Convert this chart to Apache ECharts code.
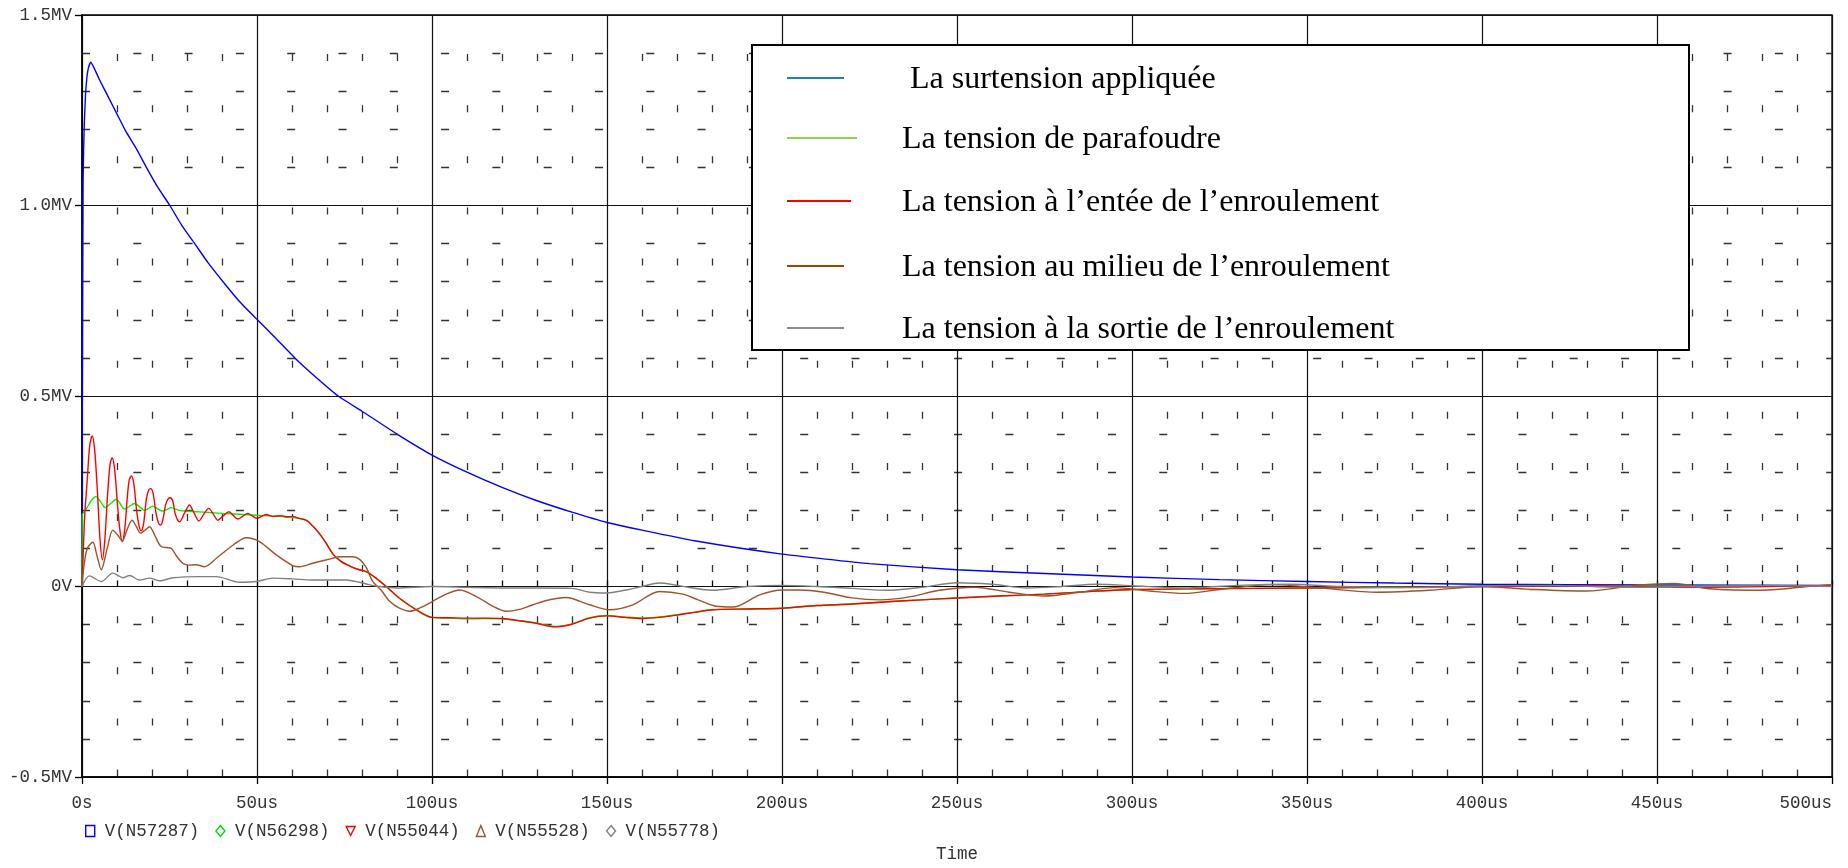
<!DOCTYPE html>
<html>
<head>
<meta charset="utf-8">
<script src="https://cdn.jsdelivr.net/npm/echarts@6/dist/echarts.min.js"></script>
<style>html,body{margin:0;padding:0;background:#fff}#c{width:1848px;height:868px}</style>
</head>
<body>
<div id="c"></div>
<script>
// ---- tick labels ----
var xTickLabels = ['0s','50us','100us','150us','200us','250us','300us','350us','400us','450us','500us'];
var yTickLabels = ['-0.5MV','0V','0.5MV','1.0MV','1.5MV'];

// ---- series names ----
var seriesNames = ['V(N57287)','V(N56298)','V(N55044)','V(N55528)','V(N55778)'];
var boxLegendNames = [' La surtension appliquée','La tension de parafoudre','La tension à l\u2019entée de l\u2019enroulement','La tension au milieu de l\u2019enroulement','La tension à la sortie de l\u2019enroulement'];

// ---- data (time in us, voltage in MV) ----
var tBlue = [0,0.1,0.3,0.6,1.0,1.4,1.8,2.5,3.4,5,7.5,10,12.5,15.6,18.4,21.5,25.1,28.5,32.2,36,40.3,45,50.1,55,60.8,67,73.2,80,90,100,110,120,130,140,150,160,175,200,225,250,275,300,325,350,375,400,450,500];
var vBlue = [0,0.5,1.06,1.2,1.29,1.336,1.36,1.376,1.362,1.33,1.285,1.24,1.195,1.148,1.1,1.05,1.0,0.948,0.9,0.85,0.8,0.748,0.7,0.655,0.6,0.548,0.5,0.46,0.4,0.345,0.30,0.26,0.225,0.195,0.168,0.148,0.12,0.085,0.06,0.044,0.034,0.025,0.018,0.013,0.009,0.006,0.004,0.003];

var tGreen = [0,0.05,1.2,2.6,4,5.3,6.7,8.2,9.8,11,12.1,13.5,15,16.5,17.9,19,20.2,21.6,23,24.2,25.5,28,33.6,40,49.8,56,62,64,66,67.9,70,71.7,74,76.4,78.5,81.2,84,86.9,90.7,95.5,100,105,110,115,120,125,130,135,140,145,150,155,160,165,170,175,180,190,200,210,220,230,240,250,262,275,290,300,320,350,380,400,430,460,500];
var vGreen = [0,0.187,0.203,0.225,0.236,0.222,0.207,0.218,0.229,0.216,0.203,0.21,0.218,0.209,0.2,0.205,0.211,0.204,0.198,0.202,0.207,0.199,0.196,0.192,0.187,0.184,0.179,0.174,0.158,0.138,0.11,0.085,0.066,0.054,0.046,0.039,0.022,0.0,-0.031,-0.061,-0.081,-0.083,-0.085,-0.084,-0.085,-0.09,-0.096,-0.105,-0.098,-0.082,-0.076,-0.08,-0.083,-0.08,-0.074,-0.068,-0.061,-0.059,-0.057,-0.05,-0.046,-0.04,-0.035,-0.03,-0.025,-0.02,-0.012,-0.008,-0.006,-0.004,-0.002,0.0,0.002,0.0,0.002];

var tRed = [0,0.4,0.8,1.5,2.2,2.9,3.6,4.4,5.1,5.8,6.5,7.3,8.0,8.6,9.3,10.1,10.8,11.5,12.2,13.0,13.5,14.1,14.8,15.6,16.3,16.9,17.6,18.4,19.0,19.6,20.3,21.1,21.8,22.4,23.1,23.9,24.6,25.2,25.9,26.6,27.3,27.9,29.3,30.7,32,33.4,34.8,36.2,37.5,38.8,40.4,42,43.3,44.5,46,47.4,48.7,50,51.3,52.6,54.5,56.9,58.5,60.2,62,64,66,67.9,70,71.7,74,76.4,78.5,81.2,84,86.9,90.7,95.5,100,105,110,115,120,125,130,135,140,145,150,155,160,165,170,175,180,190,200,210,220,230,240,250,262,275,290,300,320,350,380,400,430,460,500];
var vRed = [0,0.1,0.19,0.28,0.37,0.395,0.36,0.25,0.13,0.07,0.12,0.24,0.32,0.338,0.31,0.22,0.15,0.118,0.15,0.24,0.28,0.29,0.27,0.2,0.16,0.146,0.165,0.23,0.252,0.257,0.245,0.195,0.168,0.161,0.175,0.215,0.23,0.233,0.225,0.192,0.175,0.17,0.193,0.214,0.193,0.172,0.19,0.205,0.19,0.174,0.186,0.196,0.186,0.177,0.185,0.192,0.185,0.179,0.184,0.189,0.184,0.186,0.183,0.184,0.179,0.174,0.158,0.138,0.11,0.085,0.066,0.054,0.046,0.039,0.022,0.0,-0.031,-0.061,-0.081,-0.082,-0.083,-0.083,-0.084,-0.09,-0.097,-0.106,-0.099,-0.083,-0.077,-0.081,-0.084,-0.081,-0.075,-0.068,-0.061,-0.059,-0.057,-0.05,-0.046,-0.04,-0.035,-0.03,-0.025,-0.02,-0.012,-0.008,-0.006,-0.004,-0.002,0.0,0.002,-0.002,0.003];

var tBrown = [0,0.5,1.5,3.1,4.3,5.5,7.2,8.8,10.2,11.5,12.9,14.3,15.5,16.7,18,19.3,21,22.6,25.5,27,28.8,30.5,32.6,35,38.4,43.2,46.9,50.7,55.5,60.2,62.1,65.9,71.6,73.6,77.4,79.5,81.2,83.1,85.5,87.9,90.7,93.6,96.4,100.2,104,107.9,113.6,117,121.2,125,128.8,133,138.3,145,150.7,157.4,165,171.7,176,181.2,186,193.6,200,205,212,220,228,236,245,255,265,275,285,295,305,315,325,340,355,370,385,400,415,430,445,455,465,480,495,500];
var vBrown = [0,0.05,0.1,0.116,0.08,0.044,0.1,0.148,0.135,0.12,0.15,0.174,0.158,0.14,0.148,0.157,0.13,0.105,0.1,0.08,0.061,0.056,0.057,0.052,0.074,0.109,0.128,0.118,0.083,0.055,0.052,0.061,0.074,0.078,0.078,0.07,0.05,0.013,-0.01,-0.039,-0.057,-0.065,-0.057,-0.039,-0.02,-0.009,-0.031,-0.05,-0.065,-0.06,-0.048,-0.036,-0.029,-0.048,-0.061,-0.048,-0.013,-0.02,-0.035,-0.052,-0.054,-0.022,-0.009,-0.009,-0.015,-0.03,-0.035,-0.028,-0.01,-0.002,-0.015,-0.025,-0.015,-0.003,-0.012,-0.018,-0.008,0.005,-0.005,-0.015,-0.01,0.0,-0.008,-0.012,0.004,0.008,-0.006,-0.01,0.002,0.005];

var tGray = [0,2.1,5.5,8.8,11.7,13.6,16.4,19.3,22.1,26,33.6,38.4,45,49.8,54.5,60.2,65.9,75.5,79.3,82,85,90,100,110,120,130,140,145,150,155,160,165,170,180,190,200,210,220,230,240,250,260,270,280,290,300,315,330,345,360,380,400,420,440,460,480,500];
var vGray = [0,0.028,0.013,0.035,0.023,0.029,0.017,0.022,0.015,0.023,0.026,0.026,0.011,0.013,0.022,0.02,0.017,0.017,0.011,0.005,0.0,-0.004,0.0,-0.002,-0.004,-0.004,-0.005,-0.015,-0.017,-0.01,0.0,0.009,0.003,-0.01,0.0,0.003,0.0,-0.005,-0.01,-0.002,0.01,0.006,-0.004,0.0,0.006,0.002,-0.004,0.003,0.006,0.0,-0.003,0.002,0.003,-0.002,0.0,0.003,0.0];

var lineColors = ['#0000ff','#00ee00','#ff0000','#a0522d','#808080'];
var boxColors = ['#1a7fd0','#92d050','#ff0000','#984806','#8c8c8c'];

function zip(t, v){ var o=[]; for (var i=0;i<t.length;i++) o.push([t[i], v[i]]); return o; }
var allData = [zip(tBlue,vBlue), zip(tGreen,vGreen), zip(tRed,vRed), zip(tBrown,vBrown), zip(tGray,vGray)];

var chart = echarts.init(document.getElementById('c'));
var monoFont = 'Liberation Mono';
var gridL = 82, gridT = 15, gridW = 1750, gridH = 764;

var series = seriesNames.map(function(n, i){
  return {
    name: n, type: 'line', data: allData[i], showSymbol: false, symbol: 'none',
    smooth: i === 0 ? 0.15 : 0.3,
    lineStyle: { color: lineColors[i], width: 1.4 },
    itemStyle: { color: lineColors[i] },
    animation: false, z: 3
  };
});

var legendIcons = ['rect','diamond','path://M0,0L10,0L5,10Z','triangle','diamond'];
var legendData = seriesNames.map(function(n,i){
  return { name: n, icon: legendIcons[i],
    itemStyle: { color: 'rgba(0,0,0,0)', borderColor: lineColors[i] === '#00ee00' ? '#00dd00' : lineColors[i], borderWidth: 1.4 } };
});

// overlay legend box (graphic)
var boxX = 752, boxY = 45, boxW = 937, boxH = 305;
var rowY = [78, 138, 201, 266, 328];
var lineLen = [57, 70, 64, 57, 57];
var gElems = [{
  type: 'rect', shape: { x: boxX, y: boxY, width: boxW, height: boxH },
  style: { fill: '#fff', stroke: '#000', lineWidth: 2 }, z: 10
}];
boxLegendNames.forEach(function(n, i){
  gElems.push({ type: 'line', shape: { x1: 787, y1: rowY[i], x2: 787 + lineLen[i], y2: rowY[i] },
    style: { stroke: boxColors[i], lineWidth: 2 }, z: 11 });
  gElems.push({ type: 'text', x: 902, y: rowY[i] + 2,
    style: { text: n, fill: '#000', font: '32px "Liberation Serif"', textVerticalAlign: 'middle', verticalAlign: 'middle' }, z: 11 });
});

chart.setOption({
  animation: false,
  backgroundColor: '#fff',
  grid: { left: gridL, top: gridT, width: gridW, height: gridH, show: true, borderColor: '#000', borderWidth: 1.3, containLabel: false },
  legend: {
    data: legendData, left: 85, top: 822, padding: 0, itemWidth: 9, itemHeight: 11, itemGap: 16,
    textStyle: { fontFamily: monoFont, fontSize: 17.5, color: '#333', padding: [0,0,0,5] },
    selectedMode: false
  },
  xAxis: [{
    type: 'value', min: 0, max: 500, interval: 50,
    name: 'Time', nameLocation: 'middle', nameGap: 68,
    nameTextStyle: { fontFamily: monoFont, fontSize: 17.5, color: '#333' },
    axisLine: { show: true, onZero: false, lineStyle: { color: '#000', width: 1.5 } },
    axisTick: { show: true, inside: false, length: 7, lineStyle: { color: '#000', width: 1.3 } },
    axisLabel: { margin: 17, fontFamily: monoFont, fontSize: 17.5, color: '#333', alignMaxLabel: 'right',
      formatter: function(v){ return xTickLabels[Math.round(v/50)]; } },
    splitLine: { show: true, lineStyle: { color: '#111', width: 1.2 } },
    minorTick: { show: false, splitNumber: 5 },
    minorSplitLine: { show: true, lineStyle: { color: '#333', width: 1.3, type: [7, 44.1], dashOffset: 12 } }
  }, {
    type: 'value', min: 0, max: 500, interval: 10, position: 'bottom',
    axisLine: { show: false }, axisLabel: { show: false }, splitLine: { show: false },
    axisTick: { show: true, inside: true, length: 6, lineStyle: { color: '#000', width: 1.3 } }
  }],
  yAxis: {
    type: 'value', min: -0.5, max: 1.5, interval: 0.5,
    axisLine: { show: true, onZero: false, lineStyle: { color: '#000', width: 1.5 } },
    axisTick: { show: true, inside: false, length: 7, lineStyle: { color: '#000', width: 1.3 } },
    axisLabel: { margin: 10, fontFamily: monoFont, fontSize: 17.5, color: '#333',
      formatter: function(v){ return yTickLabels[Math.round((v + 0.5)/0.5)]; } },
    splitLine: { show: true, lineStyle: { color: '#111', width: 1.2 } },
    minorTick: { show: false, splitNumber: 5 },
    minorSplitLine: { show: true, lineStyle: { color: '#333', width: 1.3, type: [8, 43.3], dashOffset: 0 } }
  },
  series: series,
  graphic: gElems
});
</script>
</body>
</html>
